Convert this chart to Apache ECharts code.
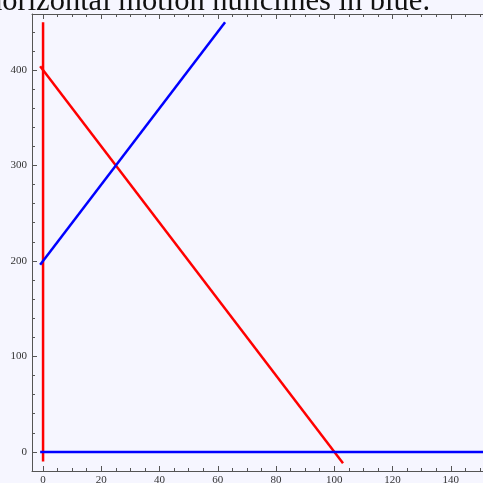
<!DOCTYPE html>
<html>
<head>
<meta charset="utf-8">
<script src="https://cdn.jsdelivr.net/npm/echarts@6/dist/echarts.min.js"></script>
<style>
  html, body { margin: 0; padding: 0; background: #f6f6ff; }
  #chart { width: 483px; height: 483px; }
</style>
</head>
<body>
<div id="chart"></div>
<script>
// Nullcline segments (endpoints in data coordinates)
const verticalNullclineAxis = [[0, -10], [0, 450]];
const verticalNullclineSlope = [[-1, 404], [103, -12]];
const horizontalNullclineSlope = [[-1, 196], [62.5, 450]];
const horizontalNullclineAxis = [[-1, 0], [170, 0]];

// Tick positions
const xMajorTicks = [0, 20, 40, 60, 80, 100, 120, 140, 160];
const xMinorTicks = [5, 10, 15, 25, 30, 35, 45, 50, 55, 65, 70, 75, 85, 90, 95,
  105, 110, 115, 125, 130, 135, 145, 150, 155];
const yMajorTicks = [0, 100, 200, 300, 400];
const yMinorTicks = [-20, 20, 40, 60, 80, 120, 140, 160, 180, 220, 240, 260, 280,
  320, 340, 360, 380, 420, 440];

const titleText = 'Vertical motion nullclines in red, horizontal motion nullclines in blue.';

const X_MIN = -3.8, X_MAX = 160;
const Y_MIN = -20, Y_MAX = 458.6;
const frameColor = '#555';
const tickColor = '#555';
const labelFont = { fontFamily: 'Liberation Serif', fontSize: 11, color: '#333' };

function xAxisDef(position, ticks, len, showLabel, showLine) {
  return {
    type: 'value', min: X_MIN, max: X_MAX, position: position,
    splitLine: { show: false },
    axisLine: { show: showLine, onZero: false, lineStyle: { color: frameColor, width: 1 } },
    axisTick: { show: true, inside: true, length: len, customValues: ticks,
      lineStyle: { color: tickColor, width: 1 } },
    axisLabel: Object.assign({ show: showLabel, customValues: ticks, margin: 4 }, labelFont)
  };
}
function yAxisDef(position, ticks, len, showLabel, showLine) {
  return {
    type: 'value', min: Y_MIN, max: Y_MAX, position: position,
    splitLine: { show: false },
    axisLine: { show: showLine, onZero: false, lineStyle: { color: frameColor, width: 1 } },
    axisTick: { show: true, inside: true, length: len, customValues: ticks,
      lineStyle: { color: tickColor, width: 1 } },
    axisLabel: Object.assign({ show: showLabel, customValues: ticks, margin: 5 }, labelFont)
  };
}

function segment(data, color) {
  return {
    type: 'line', data: data, xAxisIndex: 0, yAxisIndex: 0,
    symbol: 'none', silent: true, animation: false,
    lineStyle: { color: color, width: 2.5 }
  };
}

const chart = echarts.init(document.getElementById('chart'), null, { renderer: 'canvas' });
chart.setOption({
  backgroundColor: '#f6f6ff',
  animation: false,
  grid: { left: 32, top: 14, bottom: 12, right: -26, containLabel: false, outerBoundsMode: 'none' },
  xAxis: [
    xAxisDef('bottom', xMajorTicks, 5, true, true),
    xAxisDef('bottom', xMinorTicks, 3, false, false),
    xAxisDef('top', xMajorTicks, 5, false, true),
    xAxisDef('top', xMinorTicks, 3, false, false)
  ],
  yAxis: [
    yAxisDef('left', yMajorTicks, 5, true, true),
    yAxisDef('left', yMinorTicks, 3, false, false)
  ],
  graphic: [{
    type: 'text', right: 53, top: -14,
    style: { text: titleText, font: '30.5px "Liberation Serif"', fill: '#111' }
  }],
  series: [
    segment(verticalNullclineAxis, '#ff0000'),
    segment(verticalNullclineSlope, '#ff0000'),
    segment(horizontalNullclineSlope, '#0000ff'),
    segment(horizontalNullclineAxis, '#0000ff')
  ]
});
</script>
</body>
</html>
